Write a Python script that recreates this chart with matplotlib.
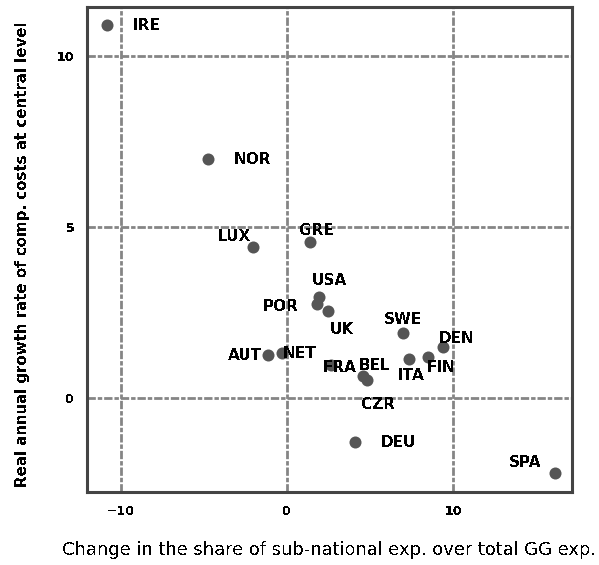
import matplotlib
matplotlib.use("Agg")
import matplotlib.pyplot as plt

plt.rcParams['font.family'] = ['DejaVu Sans']
plt.rcParams['text.antialiased'] = False

# country codes and their values
countries = ["IRE", "NOR", "LUX", "GRE", "USA", "POR", "UK", "SWE", "DEN",
             "FIN", "ITA", "AUT", "NET", "FRA", "BEL", "CZR", "DEU", "SPA"]
share_change = [-10.86, -4.74, -2.03, 1.39, 1.95, 1.8, 2.49, 7.0, 9.38,
                8.5, 7.37, -1.16, -0.32, 2.67, 4.6, 4.8, 4.1, 16.14]
cost_growth = [10.9, 6.98, 4.41, 4.57, 2.95, 2.75, 2.54, 1.89, 1.48,
               1.21, 1.14, 1.26, 1.31, 0.96, 0.65, 0.52, -1.28, -2.2]

# label offsets in pixels (dx, dy) relative to each point
label_offsets = {
    "IRE": (26, 0), "NOR": (25, 0), "LUX": (-36, 11), "GRE": (-11, 11),
    "USA": (-8, 17), "POR": (-54, -3), "UK": (1, -18), "SWE": (-19, 14),
    "DEN": (-4, 9), "FIN": (-1, -11), "ITA": (-12, -17), "AUT": (-40, -1),
    "NET": (1, 0), "FRA": (-9, -2), "BEL": (-5, 10), "CZR": (-5, -24),
    "DEU": (26, -1), "SPA": (-46, 11),
}

fig = plt.figure(figsize=(5.99, 5.65), dpi=100)
ax = fig.add_axes([0.1452, 0.1292, 0.8097, 0.8584])

ax.scatter(share_change, cost_growth, s=75, color="#555555", zorder=3,
           linewidths=0)

for name, x, y in zip(countries, share_change, cost_growth):
    dx, dy = label_offsets[name]
    ax.annotate(name, (x, y), xytext=(dx * 0.72, dy * 0.72),
                textcoords="offset points", fontsize=11, fontweight="bold",
                ha="left", va="center", zorder=4)

ax.set_xlim(-12.05, 17.17)
ax.set_ylim(-2.75, 11.43)
ax.set_xticks([-10, 0, 10])
ax.set_yticks([0, 5, 10])
ax.grid(True, color="#858585", linewidth=2.0,
        linestyle=(0, (3, 0.7, 1.6, 0.7)))
ax.set_axisbelow(True)

for sp in ax.spines.values():
    sp.set_color("#444444")
    sp.set_linewidth(2.2)

ax.tick_params(length=0, labelsize=9, pad=9)
for lbl in ax.get_xticklabels() + ax.get_yticklabels():
    lbl.set_fontweight("bold")

fig.text(0.549, 0.027, "Change in the share of sub-national exp. over total GG exp.",
         ha="center", va="center", fontsize=12.9)
fig.text(0.037, 0.55, "Real annual growth rate of comp. costs at central level",
         ha="center", va="center", rotation=90, fontsize=10.8, fontweight="bold")

fig.savefig("out.png", dpi=100)
